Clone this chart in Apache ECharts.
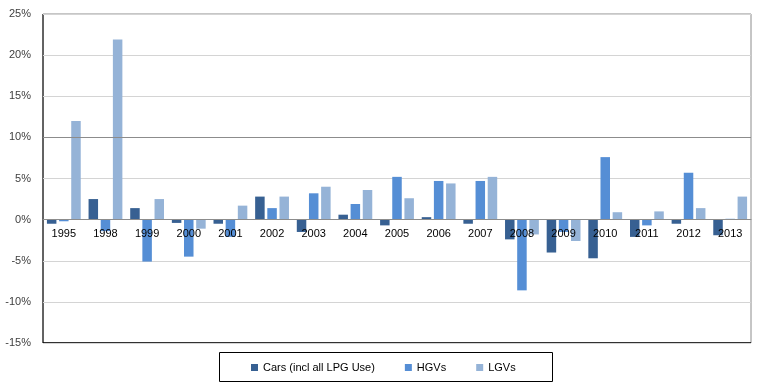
<!DOCTYPE html>
<html>
<head>
<meta charset="utf-8">
<script src="https://cdn.jsdelivr.net/npm/echarts@6/dist/echarts.min.js"></script>
<style>html,body{margin:0;padding:0;background:#fff}#c{width:760px;height:389px}</style>
</head>
<body>
<div id="c"></div>
<script>
var categories = ['1995','1998','1999','2000','2001','2002','2003','2004','2005','2006','2007','2008','2009','2010','2011','2012','2013'];
var cars = [-0.5, 2.5, 1.4, -0.4, -0.5, 2.8, -1.5, 0.6, -0.7, 0.3, -0.5, -2.4, -4.0, -4.7, -2.1, -0.5, -1.9];
var hgvs = [-0.2, -1.4, -5.1, -4.5, -2.1, 1.4, 3.2, 1.9, 5.2, 4.7, 4.7, -8.6, -1.5, 7.6, -0.7, 5.7, 0.1];
var lgvs = [12.0, 21.9, 2.5, -1.1, 1.7, 2.8, 4.0, 3.6, 2.6, 4.4, 5.2, -1.8, -2.6, 0.9, 1.0, 1.4, 2.8];
var seriesNames = ['Cars (incl all LPG Use)', 'HGVs', 'LGVs'];
var colors = ['#376092', '#558ED5', '#95B3D7'];
var yMin = -15, yMax = 25, yStep = 5;

var chart = echarts.init(document.getElementById('c'), null, {renderer: 'canvas'});
var font = 'Liberation Sans, Arial, sans-serif';
function bar(name, data, color, extra) {
  var s = {
    name: name, type: 'bar', data: data, barWidth: 9.5, barGap: '28%',
    itemStyle: {color: color}, silent: true
  };
  if (extra) for (var k in extra) s[k] = extra[k];
  return s;
}
chart.setOption({
  animation: false,
  color: colors,
  textStyle: {fontFamily: font},
  grid: {left: 43, right: 9, top: 14, bottom: 46, show: true, borderColor: '#8c8c8c', borderWidth: 1},
  xAxis: {
    type: 'category', data: categories, z: 10,
    axisLine: {show: true, onZero: false, lineStyle: {color: '#8c8c8c', width: 1}},
    axisTick: {show: false},
    axisLabel: {color: '#000', fontSize: 11, margin: 9, fontFamily: font, interval: 0}
  },
  yAxis: {
    type: 'value', min: yMin, max: yMax, interval: yStep,
    axisLine: {show: false},
    axisTick: {show: false},
    splitLine: {lineStyle: {color: '#d4d4d4', width: 1}},
    axisLabel: {formatter: '{value}%', color: '#404040', fontSize: 11, margin: 12, fontFamily: font}
  },
  legend: {
    data: seriesNames, left: 246, top: 357, icon: 'rect', itemWidth: 7, itemHeight: 7, itemGap: 30,
    textStyle: {fontSize: 11, color: '#000', fontFamily: font}, selectedMode: false
  },
  graphic: [{
    type: 'rect', shape: {x: 219.5, y: 352.5, width: 333, height: 29},
    style: {fill: 'none', stroke: '#000', lineWidth: 1}, silent: true
  }, {
    type: 'line', shape: {x1: 43, y1: 343, x2: 751, y2: 343},
    style: {stroke: '#000', lineWidth: 1.5}, silent: true
  }, {
    type: 'line', shape: {x1: 43, y1: 14, x2: 43, y2: 343},
    style: {stroke: '#000', lineWidth: 1}, silent: true
  }],
  series: [
    bar(seriesNames[0], cars, colors[0]),
    bar(seriesNames[1], hgvs, colors[1]),
    bar(seriesNames[2], lgvs, colors[2], {
      markLine: {silent: true, symbol: 'none', label: {show: false},
        lineStyle: {color: '#8c8c8c', type: 'solid', width: 1},
        data: [{yAxis: 10}]}
    })
  ]
});
// move the category axis up to the zero line using the library's own scale
var zeroPx = chart.convertToPixel({yAxisIndex: 0}, 0);
var bottomPx = chart.convertToPixel({yAxisIndex: 0}, yMin);
chart.setOption({xAxis: {offset: zeroPx - bottomPx}});
</script>
</body>
</html>
